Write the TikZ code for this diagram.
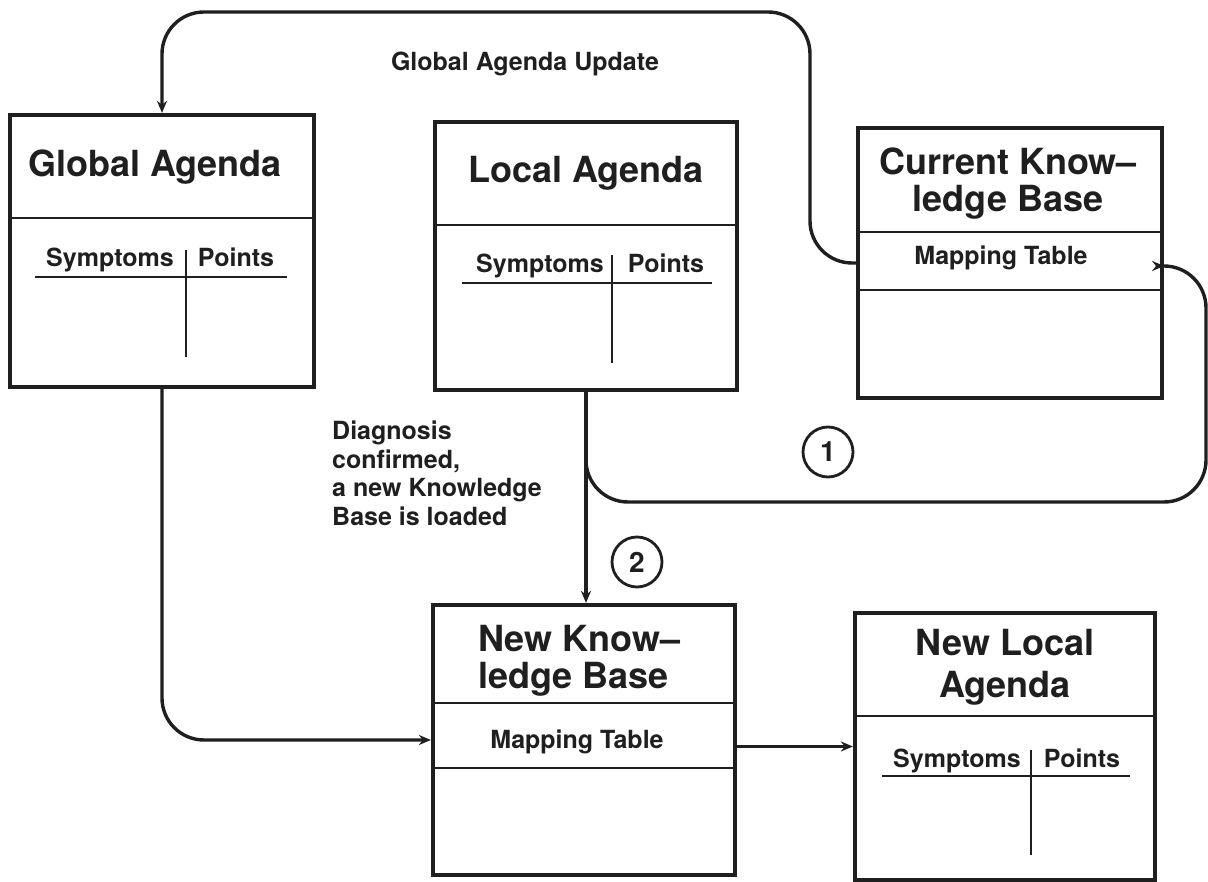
\documentclass[tikz,border=0pt]{standalone}
\usepackage{fontspec}
\setmainfont{TeX Gyre Heros}
\usetikzlibrary{arrows.meta}
\definecolor{ink}{gray}{0.12}

\begin{document}
\begin{tikzpicture}[x=1pt,y=-1pt,
  box/.style={draw=ink, line width=4.2pt, rectangle, inner sep=0pt},
  rule/.style={draw=ink, line width=1.6pt},
  tabrule/.style={draw=ink, line width=1.3pt},
  conn/.style={draw=ink, line width=3.4pt, rounded corners=42pt},
  tip/.style={-{Stealth[length=12pt,width=10pt]}},
  title/.style={text=ink, font=\bfseries\fontsize{36}{37}\selectfont, inner sep=0pt},
  lbl/.style={text=ink, font=\bfseries\fontsize{25}{28.5}\selectfont, inner sep=0pt},
  num/.style={draw=ink, circle, line width=2.8pt, minimum size=50pt, inner sep=0pt,
              text=ink, font=\bfseries\fontsize{28}{30}\selectfont}]

\useasboundingbox (0,0) rectangle (1208,882);
\fill[white] (0,0) rectangle (1208,882);

% ---- boxes ----
\node[box, minimum width=304pt, minimum height=272pt] (ga)  at (162,251) {};
\node[box, minimum width=302pt, minimum height=268pt] (la)  at (586,256) {};
\node[box, minimum width=304pt, minimum height=270pt] (ckb) at (1010,263) {};
\node[box, minimum width=302pt, minimum height=270pt] (nkb) at (584,740) {};
\node[box, minimum width=300pt, minimum height=267pt] (nla) at (1005,746.5) {};

% ---- Global Agenda ----
\node[title, anchor=base] (gat) at (155,177) {Global Agenda};
\draw[rule] (ga.west |- 0,218) -- (ga.east |- 0,218);
\node[lbl, anchor=base] (gasym) at (110,267) {Symptoms};
\node[lbl, anchor=base] (gapts) at (236,267) {Points};
\draw[tabrule] (35,277) -- (287,277);
\draw[tabrule] (186,250) -- (186,357);

% ---- Local Agenda ----
\node[title, anchor=base] (lat) at (586,183) {Local Agenda};
\draw[rule] (la.west |- 0,225) -- (la.east |- 0,225);
\node[lbl, anchor=base] (lasym) at (540,273) {Symptoms};
\node[lbl, anchor=base] (lapts) at (666,273) {Points};
\draw[tabrule] (462,283) -- (712,283);
\draw[tabrule] (612,255) -- (612,363);

% ---- Current Knowledge Base (base anchor sits on the last line) ----
\node[title, anchor=base, align=center] (ckbt) at (1008,212) {Current Know--\\ledge Base};
\draw[rule] (ckb.west |- 0,232) -- (ckb.east |- 0,232);
\node[lbl, anchor=base] (ckbmap) at (1001,265) {Mapping Table};
\draw[rule] (ckb.west |- 0,290) -- (ckb.east |- 0,290);

% ---- New Knowledge Base ----
\node[title, anchor=base west, align=left] (nkbt) at (478,688) {New Know--\\ledge Base};
\draw[rule] (nkb.west |- 0,703) -- (nkb.east |- 0,703);
\node[lbl, anchor=base] (nkbmap) at (577,748) {Mapping Table};
\draw[rule] (nkb.west |- 0,768) -- (nkb.east |- 0,768);

% ---- New Local Agenda ----
\node[title, anchor=base, align=center, font=\bfseries\fontsize{36}{42}\selectfont] (nlat) at (1005,697) {New Local\\Agenda};
\draw[rule] (nla.west |- 0,716) -- (nla.east |- 0,716);
\node[lbl, anchor=base] (nlasym) at (957,767) {Symptoms};
\node[lbl, anchor=base] (nlapts) at (1082,767) {Points};
\draw[tabrule] (882,776) -- (1130,776);
\draw[tabrule] (1031,750) -- (1031,855);

% ---- connectors ----
\coordinate (updtop) at (810,12);
\coordinate (loopright) at (1206,502);
\draw[conn, tip] (ckb.west) -| (updtop) -| (ga.north);
\node[lbl, anchor=base] (updlbl) at (525,71) {Global Agenda Update};

\draw[conn, tip] (la.south) -- (la.south |- nkb.north);
\draw[conn, tip] (la.south) |- (loopright) |- (ckb.east |- 0,266);
\draw[conn, tip] (ga.south) |- (nkb.west);
\draw[conn, tip] (nkb.east |- nla.west) -- (nla.west);

\node[lbl, anchor=base west, align=left] (diag) at (332,525)
  {Diagnosis\\confirmed,\\a new Knowledge\\Base is loaded};

\node[num] (n1) at (828,452) {1};
\node[num] (n2) at (637,562) {2};
\end{tikzpicture}
\end{document}
